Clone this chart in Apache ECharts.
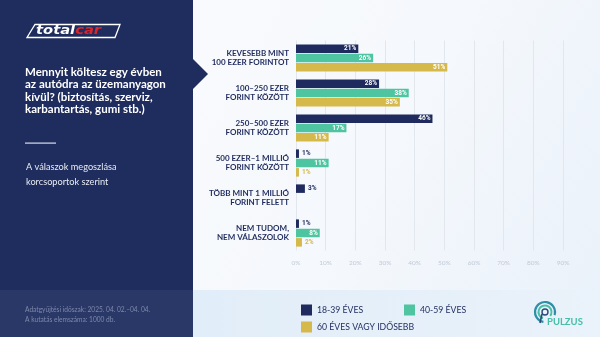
<!DOCTYPE html>
<html>
<head>
<meta charset="utf-8">
<script src="https://cdn.jsdelivr.net/npm/echarts@6/dist/echarts.min.js"></script>
<style>
  html, body { margin: 0; padding: 0; }
  #chart { width: 600px; height: 337px; }
</style>
</head>
<body>
<div id="chart"></div>
<script>
// Answer categories (top to bottom)
const categories = [
  'KEVESEBB MINT\n100 EZER FORINTOT',
  '100–250 EZER\nFORINT KÖZÖTT',
  '250–500 EZER\nFORINT KÖZÖTT',
  '500 EZER–1 MILLIÓ\nFORINT KÖZÖTT',
  'TÖBB MINT 1 MILLIÓ\nFORINT FELETT',
  'NEM TUDOM,\nNEM VÁLASZOLOK'
];

// Share of answers per age group, in percent
const age18to39 = [21, 28, 46, 1, 3, 1];
const age40to59 = [26, 38, 17, 11, null, 8];
const age60plus = [51, 35, 11, 1, null, 2];

const seriesNames = ['18-39 ÉVES', '40-59 ÉVES', '60 ÉVES VAGY IDŐSEBB'];
const axisTicks = [0, 10, 20, 30, 40, 50, 60, 70, 80, 90];

const NAVY = '#1f2b5e';
const GREEN = '#4fc4a0';
const GOLD = '#d5b94b';
const colors = [NAVY, GREEN, GOLD];

function barData(values, color) {
  return values.map(v => {
    if (v == null) return null;
    if (v <= 3) {
      return {
        value: v,
        label: { position: 'right', distance: 3, color: color }
      };
    }
    return { value: v };
  });
}

function makeSeries(name, values, color) {
  return {
    name: name,
    type: 'bar',
    data: barData(values, color),
    barWidth: 8.5,
    barGap: '10%',
    itemStyle: { color: color },
    label: {
      show: true,
      position: 'insideRight',
      distance: 2,
      formatter: '{c}%',
      color: '#ffffff',
      fontFamily: 'Roboto',
      fontWeight: 'bold',
      fontSize: 6.5
    },
    silent: true,
    animation: false
  };
}

const chart = echarts.init(document.getElementById('chart'), null, { renderer: 'canvas' });

const legendText = { color: NAVY, fontFamily: 'Lato', fontSize: 8.7 };

chart.setOption({
  animation: false,
  backgroundColor: {
    type: 'linear', x: 0, y: 0, x2: 1, y2: 1,
    colorStops: [
      { offset: 0, color: '#fbfcfe' },
      { offset: 0.6, color: '#f5f8fc' },
      { offset: 1, color: '#e9f1fa' }
    ]
  },
  graphic: [
    // lower band of the chart area
    { type: 'rect', z: -10, shape: { x: 193, y: 290, width: 407, height: 47 },
      style: { fill: { type: 'linear', x: 0, y: 0, x2: 1, y2: 0,
        colorStops: [{ offset: 0, color: '#e1edf8' }, { offset: 1, color: '#eaf2fa' }] } } },
    // left info panel
    { type: 'rect', z: 1, shape: { x: 0, y: 0, width: 193, height: 290 }, style: { fill: '#1f2c5e' } },
    { type: 'rect', z: 1, shape: { x: 0, y: 290, width: 193, height: 47 }, style: { fill: '#2a3868' } },
    { type: 'polygon', z: 1, shape: { points: [[192, 58], [208, 74], [192, 90]] }, style: { fill: '#1f2c5e' } },
    // totalcar logo
    { type: 'polygon', z: 2, shape: { points: [[35, 24.5], [120, 24.5], [115, 37.5], [27, 37.5]] },
      style: { fill: 'none', stroke: '#ffffff', lineWidth: 1.3 } },
    { type: 'text', z: 3, x: 36, y: 31, scaleX: 1.28,
      style: {
        text: '{a|total}{b|car}', verticalAlign: 'middle',
        rich: {
          a: { fill: '#ffffff', fontFamily: 'DejaVu Sans', fontWeight: 'bold', fontStyle: 'italic', fontSize: 11.5 },
          b: { fill: '#d8262e', fontFamily: 'DejaVu Sans', fontWeight: 'bold', fontStyle: 'italic', fontSize: 11.5 }
        }
      } },
    // title
    { type: 'text', z: 3, x: 25, y: 66,
      style: {
        text: 'Mennyit költesz egy évben\naz autódra az üzemanyagon\nkívül? (biztosítás, szerviz,\nkarbantartás, gumi stb.)',
        fill: '#ffffff', fontFamily: 'Lato', fontWeight: 'bold', fontSize: 11.5, lineHeight: 12.4
      } },
    { type: 'rect', z: 3, shape: { x: 25, y: 142.5, width: 31, height: 1.2 }, style: { fill: '#d9deea' } },
    { type: 'text', z: 3, x: 26, y: 160,
      style: {
        text: 'A válaszok megoszlása\nkorcsoportok szerint',
        fill: '#e8ebf2', fontFamily: 'Lato', fontSize: 9.2, lineHeight: 14.5
      } },
    { type: 'text', z: 3, x: 25, y: 305.5,
      style: {
        text: 'Adatgyűjtési időszak: 2025. 04. 02.–04. 04.\nA kutatás elemszáma: 1000 db.',
        fill: '#7d88aa', fontFamily: 'Lato', fontSize: 6.6, lineHeight: 9.5
      } },
    // PULZUS logo
    { type: 'arc', z: 3, shape: { cx: 545, cy: 312, r: 10, startAngle: Math.PI * 0.55, endAngle: Math.PI * 2.1 },
      style: { stroke: '#2f8fa8', lineWidth: 2.2, fill: 'none' } },
    { type: 'arc', z: 3, shape: { cx: 545, cy: 312, r: 6.5, startAngle: Math.PI * 0.6, endAngle: Math.PI * 2.2 },
      style: { stroke: '#46bfa6', lineWidth: 2, fill: 'none' } },
    { type: 'circle', z: 3, shape: { cx: 545, cy: 312, r: 3 }, style: { stroke: '#2a4a7a', lineWidth: 1.4, fill: 'none' } },
    { type: 'line', z: 3, shape: { x1: 542, y1: 314, x2: 540, y2: 323 }, style: { stroke: '#2a4a7a', lineWidth: 1.6 } },
    { type: 'text', z: 3, x: 547, y: 322,
      style: { text: 'PULZUS', fill: '#44bfa8', fontFamily: 'Lato', fontWeight: 'bold', fontSize: 9.5, verticalAlign: 'middle' } }
  ],
  grid: { left: 296, right: 37, top: 40.5, height: 210, containLabel: false },
  legend: [
    { data: [seriesNames[0]], left: 296, top: 299.5, itemWidth: 11, itemHeight: 11, itemGap: 0, icon: 'rect', selectedMode: false, textStyle: legendText },
    { data: [seriesNames[1]], left: 399, top: 299.5, itemWidth: 11, itemHeight: 11, itemGap: 0, icon: 'rect', selectedMode: false, textStyle: legendText },
    { data: [seriesNames[2]], left: 296, top: 316.5, itemWidth: 11, itemHeight: 11, itemGap: 0, icon: 'rect', selectedMode: false, textStyle: legendText }
  ],
  xAxis: {
    type: 'value',
    min: 0, max: axisTicks[axisTicks.length - 1], interval: 10,
    axisLine: { show: false },
    axisTick: { show: false },
    splitLine: { lineStyle: { color: '#e2e6ed', width: 1 } },
    axisLabel: { formatter: '{value}%', color: '#c3cad6', fontFamily: 'Lato', fontSize: 6.5, margin: 9 }
  },
  yAxis: {
    type: 'category',
    inverse: true,
    data: categories,
    axisLine: { show: false },
    axisTick: { show: false },
    axisLabel: {
      color: NAVY, fontFamily: 'Lato', fontWeight: 'bold', fontSize: 8, lineHeight: 9.7,
      align: 'right', margin: 7
    }
  },
  series: [
    makeSeries(seriesNames[0], age18to39, colors[0]),
    makeSeries(seriesNames[1], age40to59, colors[1]),
    makeSeries(seriesNames[2], age60plus, colors[2])
  ]
});
</script>
</body>
</html>
